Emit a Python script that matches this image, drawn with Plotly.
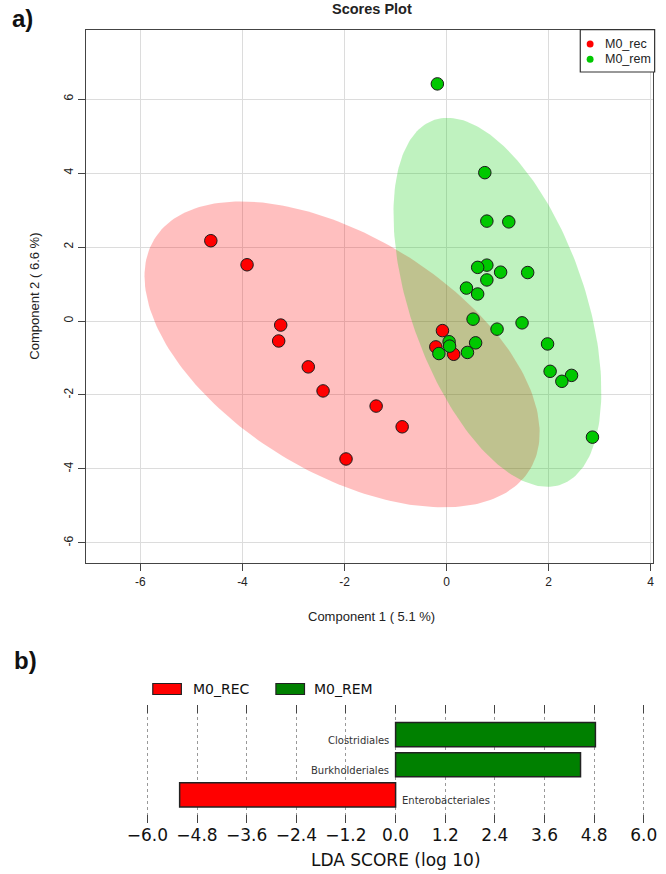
import numpy as np
import plotly.graph_objects as go

W, H = 666, 874

# ---------------- data: PLS-DA scores ----------------
rec_x = [-4.62, -3.91, -3.25, -3.29, -2.71, -2.42, -1.38, -0.87, -1.97, -0.08, -0.21, 0.14]
rec_y = [2.17, 1.52, -0.11, -0.54, -1.24, -1.89, -2.30, -2.86, -3.73, -0.26, -0.70, -0.90]
rem_x = [-0.18, 0.75, 0.79, 1.22, 0.79, 0.61, 1.06, 1.59, 0.79, 0.39, 0.61, 0.52,
         0.99, 1.48, 1.98, 0.05, 0.06, -0.15, 0.57, 0.41, 2.03, 2.45, 2.26, 2.86]
rem_y = [6.41, 4.01, 2.70, 2.68, 1.51, 1.45, 1.32, 1.31, 1.11, 0.89, 0.73, 0.05,
         -0.22, -0.05, -0.62, -0.56, -0.68, -0.88, -0.59, -0.85, -1.36, -1.47, -1.63, -3.14]
group_names = ["M0_rec", "M0_rem"]
x_ticks = [-6, -4, -2, 0, 2, 4]
y_ticks = [-6, -4, -2, 0, 2, 4, 6]

# ---------------- data: LEfSe LDA ----------------
lda_taxa = ["Enterobacteriales", "Burkholderiales", "Clostridiales"]
lda_score = [-5.22, 4.47, 4.83]
lda_class = ["M0_REC", "M0_REM", "M0_REM"]
lda_classes = ["M0_REC", "M0_REM"]
lda_ticks = [-6.0, -4.8, -3.6, -2.4, -1.2, 0.0, 1.2, 2.4, 3.6, 4.8, 6.0]


def px_x(p):
    return p / W


def px_y(p):
    return 1 - p / H


def conf_ellipse(x, y, t=2.4477, n=240):
    x = np.asarray(x); y = np.asarray(y)
    cov = np.cov(x, y)
    vals, vecs = np.linalg.eigh(cov)
    a = np.linspace(0, 2 * np.pi, n)
    circ = np.vstack([np.cos(a), np.sin(a)])
    pts = vecs @ np.diag(np.sqrt(vals)) @ circ * t
    return pts[0] + x.mean(), pts[1] + y.mean()


fig = go.Figure()

ell_fill = ["rgba(255,0,0,0.25)", "rgba(0,205,0,0.25)"]
pt_col = ["#FF0000", "#00C800"]
groups = [(rec_x, rec_y), (rem_x, rem_y)]

for (gx, gy), fc in zip(groups, ell_fill):
    ex, ey = conf_ellipse(gx, gy)
    fig.add_trace(go.Scatter(x=ex, y=ey, mode="lines", fill="toself", fillcolor=fc,
                             line=dict(width=0), hoverinfo="skip", showlegend=False,
                             xaxis="x", yaxis="y"))

for (gx, gy), c, name in zip(groups, pt_col, group_names):
    fig.add_trace(go.Scatter(x=gx, y=gy, mode="markers", name=name,
                             marker=dict(size=12.5, color=c, line=dict(color="#1a1a1a", width=1)),
                             showlegend=False, xaxis="x", yaxis="y"))

# ---------------- LDA bars ----------------
bar_col = {"M0_REC": "#FF0000", "M0_REM": "#008000"}
for cls in lda_classes:
    ys = [t for t, c in zip(lda_taxa, lda_class) if c == cls]
    xs = [s for s, c in zip(lda_score, lda_class) if c == cls]
    fig.add_trace(go.Bar(x=xs, y=ys, orientation="h", width=0.8, name=cls,
                         marker=dict(color=bar_col[cls], line=dict(color="#222222", width=1.5)),
                         showlegend=False, xaxis="x2", yaxis="y2"))

top_font = "Liberation Sans, Arial, sans-serif"
bot_font = "DejaVu Sans, sans-serif"

fig.update_layout(
    width=W, height=H, margin=dict(l=0, r=0, t=0, b=0),
    paper_bgcolor="white", plot_bgcolor="white",
    xaxis=dict(domain=[px_x(79), px_x(654.5)], range=[-7.07, 4.04], anchor="y",
               tickvals=x_ticks, ticktext=[str(v) for v in x_ticks],
               ticks="outside", ticklen=7, tickcolor="#444",
               showline=True, linecolor="#444", linewidth=1.3, mirror=True,
               showgrid=True, gridcolor="#dcdcdc", gridwidth=1, zeroline=False,
               tickfont=dict(family=top_font, size=12, color="#222")),
    yaxis=dict(domain=[px_y(563.3), px_y(29.5)], range=[-6.55, 7.88], anchor="x",
               tickvals=y_ticks, ticktext=[str(v) for v in y_ticks],
               ticks="outside", ticklen=7, tickcolor="#444",
               showline=True, linecolor="#444", linewidth=1.3, mirror=True,
               showgrid=True, gridcolor="#dcdcdc", gridwidth=1, zeroline=False,
               tickangle=-90,
               tickfont=dict(family=top_font, size=12, color="#222")),
    xaxis2=dict(domain=[px_x(128.9), px_x(658.1)], range=[-6.3, 6.3], anchor="y2",
                tickvals=lda_ticks, ticktext=[f"{v:.1f}".replace("-", "\u2212") for v in lda_ticks],
                ticks="inside", ticklen=8, tickcolor="#444", mirror="ticks",
                showline=False, zeroline=False,
                showgrid=True, gridcolor="#999", gridwidth=1, griddash="dot",
                tickfont=dict(family=bot_font, size=17, color="#111")),
    yaxis2=dict(domain=[px_y(823), px_y(705)], range=[-0.93, 2.98], anchor="x2",
                type="category", categoryorder="array", categoryarray=lda_taxa,
                showticklabels=False, showgrid=False, zeroline=False, showline=False, ticks=""),
    bargap=0.2,
)

ann = []
# panel labels
ann.append(dict(text="<b>a)</b>", x=px_x(2), y=px_y(19), xanchor="left", yanchor="middle",
                font=dict(family=top_font, size=24, color="#111")))
ann.append(dict(text="<b>b)</b>", x=px_x(4), y=px_y(660), xanchor="left", yanchor="middle",
                font=dict(family=top_font, size=24, color="#111")))
# top titles
ann.append(dict(text="<b>Scores Plot</b>", x=px_x(369.5), y=px_y(9), xanchor="center", yanchor="middle",
                font=dict(family=top_font, size=14.5, color="#222")))
ann.append(dict(text="Component 1 ( 5.1 %)", x=px_x(369.5), y=px_y(616.7), xanchor="center", yanchor="middle",
                font=dict(family=top_font, size=13, color="#222")))
ann.append(dict(text="Component 2 ( 6.6 %)", x=px_x(26.7), y=px_y(296.4), xanchor="center", yanchor="middle",
                textangle=-90, font=dict(family=top_font, size=13, color="#222")))
# top legend text
for i, name in enumerate(group_names):
    ann.append(dict(text=name, x=px_x(604), y=px_y(44 + 15.3 * i), xanchor="left", yanchor="middle",
                    font=dict(family=top_font, size=12.5, color="#222")))
# bottom x title
ann.append(dict(text="LDA SCORE (log 10)", x=px_x(393.5), y=px_y(860), xanchor="center", yanchor="middle",
                font=dict(family=bot_font, size=17, color="#111")))
# bottom legend text
leg_x = [186, 309]
for cls, lx in zip(lda_classes, leg_x):
    ann.append(dict(text=cls, x=px_x(lx), y=px_y(689), xanchor="left", yanchor="middle",
                    font=dict(family=bot_font, size=14, color="#111")))
# bar labels
for t, s in zip(lda_taxa, lda_score):
    ann.append(dict(text=t, x=0, y=t, xref="x2", yref="y2",
                    xanchor="right" if s > 0 else "left",
                    xshift=-5 if s > 0 else 4, yshift=-6, yanchor="middle",
                    font=dict(family=bot_font, size=10, color="#333")))

for a in ann:
    a.setdefault("xref", "paper")
    a.setdefault("yref", "paper")
    a["showarrow"] = False
fig.update_layout(annotations=ann)

shapes = []
# top legend box + dots
shapes.append(dict(type="rect", xref="paper", yref="paper", x0=px_x(581), x1=px_x(656.5),
                   y0=px_y(72), y1=px_y(29.7), line=dict(color="#333", width=1.2), fillcolor="white"))
for i, c in enumerate(pt_col):
    cy = 44 + 15.3 * i
    shapes.append(dict(type="circle", xref="paper", yref="paper", x0=px_x(587.5), x1=px_x(594.5),
                       y0=px_y(cy + 3.5), y1=px_y(cy - 3.5), line=dict(width=0), fillcolor=c))
# bottom legend swatches
for cls, sx in zip(lda_classes, [147, 272]):
    shapes.append(dict(type="rect", xref="paper", yref="paper", x0=px_x(sx), x1=px_x(sx + 29),
                       y0=px_y(694.5), y1=px_y(683.5), line=dict(color="#222", width=1.2),
                       fillcolor=bar_col[cls]))
fig.update_layout(shapes=shapes)

fig.write_html(
    "out.html",
    config={"displayModeBar": False},
    post_script="document.body.style.margin='0px';document.body.style.overflow='hidden';",
)
